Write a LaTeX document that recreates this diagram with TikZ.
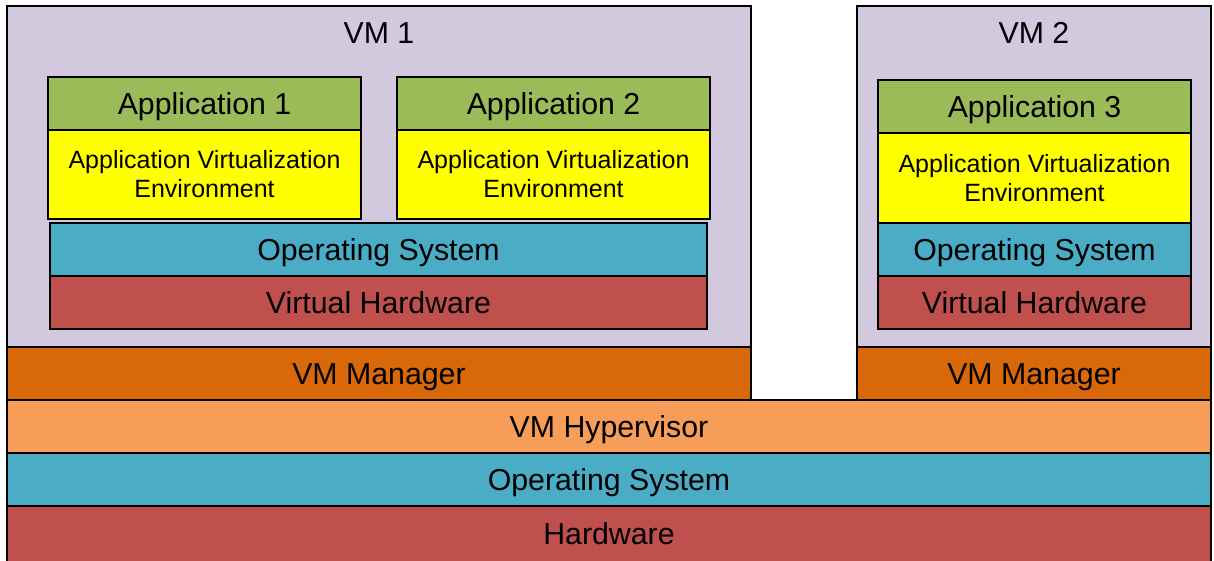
\documentclass[tikz,border=0pt]{standalone}
\usepackage{fontspec}
\setmainfont{Liberation Sans}
\definecolor{vmbg}{HTML}{D2C9DF}
\definecolor{appgreen}{HTML}{9BBB59}
\definecolor{aveyellow}{HTML}{FFFF00}
\definecolor{osblue}{HTML}{4BACC6}
\definecolor{hwred}{HTML}{C0504D}
\definecolor{mgrorange}{HTML}{D9680B}
\definecolor{hyporange}{HTML}{F79D5A}
\newcommand{\bigfont}{\fontsize{30.3}{34}\selectfont}
\newcommand{\smallfont}{\fontsize{25}{29}\selectfont}
\tikzset{
  boxbase/.style={draw=black, line width=1.5pt, inner sep=0pt, outer sep=0pt,
    anchor=north west, align=center},
  layer/.style={boxbase, font=\bigfont, text height=21.7pt, text depth=0pt},
  envbox/.style={boxbase, fill=aveyellow, font=\smallfont},
  title/.style={font=\bigfont, inner sep=0pt, text height=21.7pt, text depth=0pt},
}
\begin{document}
\begin{tikzpicture}[x=1pt, y=-1pt]
\useasboundingbox[fill=white] (0,0) rectangle (1214,560);

% host stack
\node[layer, fill=hwred, minimum width=1204pt, minimum height=56pt] (hw) at (7,506) {Hardware};
\node[layer, fill=osblue, minimum width=1204pt, minimum height=53pt] (hostos) at (7,453) {Operating System};
\node[layer, fill=hyporange, minimum width=1204pt, minimum height=53pt] (hyp) at (7,400) {VM Hypervisor};

% VM 1
\node[boxbase, fill=vmbg, minimum width=744pt, minimum height=341pt] (vm1) at (7,6) {};
\node[layer, fill=mgrorange, minimum width=744pt, minimum height=53pt] (mgr1) at (7,347) {VM Manager};
\node[title] (vm1t) at (379,33) {VM 1};
\node[layer, fill=appgreen, minimum width=313pt, minimum height=53pt] (app1) at (48,77) {Application 1};
\node[envbox, minimum width=313pt, minimum height=89pt] (ave1) at (48,130) {Application Virtualization\\Environment};
\node[layer, fill=appgreen, minimum width=313pt, minimum height=53pt] (app2) at (397,77) {Application 2};
\node[envbox, minimum width=313pt, minimum height=89pt] (ave2) at (397,130) {Application Virtualization\\Environment};
\node[layer, fill=osblue, minimum width=657pt, minimum height=53pt] (os1) at (50,223) {Operating System};
\node[layer, fill=hwred, minimum width=657pt, minimum height=53pt] (vh1) at (50,276) {Virtual Hardware};

% VM 2
\node[boxbase, fill=vmbg, minimum width=354pt, minimum height=341pt] (vm2) at (857,6) {};
\node[layer, fill=mgrorange, minimum width=354pt, minimum height=53pt] (mgr2) at (857,347) {VM Manager};
\node[title] (vm2t) at (1034,33) {VM 2};
\node[layer, fill=appgreen, minimum width=313pt, minimum height=53pt] (app3) at (878,80) {Application 3};
\node[envbox, minimum width=313pt, minimum height=90pt] (ave3) at (878,133) {Application Virtualization\\Environment};
\node[layer, fill=osblue, minimum width=313pt, minimum height=53pt] (os2) at (878,223) {Operating System};
\node[layer, fill=hwred, minimum width=313pt, minimum height=53pt] (vh2) at (878,276) {Virtual Hardware};
\end{tikzpicture}
\end{document}
